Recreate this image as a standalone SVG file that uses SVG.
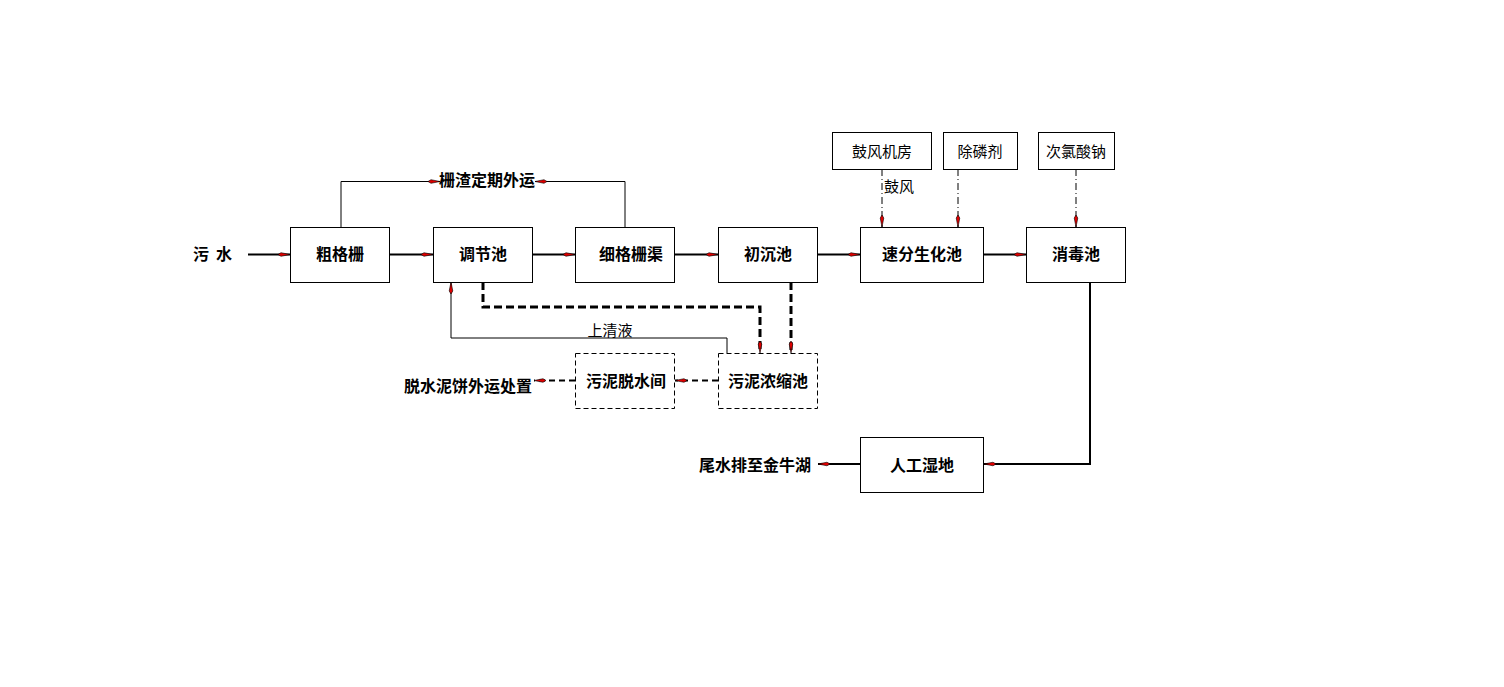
<svg xmlns="http://www.w3.org/2000/svg" width="1504" height="687" viewBox="0 0 1504 687">
<style>
.box{fill:#fff;stroke:#000;stroke-width:1}
.dbox{fill:#fff;stroke:#000;stroke-width:1;stroke-dasharray:5,3}
.t{font-family:"Noto Sans CJK SC","Liberation Sans",sans-serif;font-size:16px;font-weight:bold;fill:#000;text-anchor:middle}
.tl{font-family:"Noto Sans CJK SC","Liberation Sans",sans-serif;font-size:15px;font-weight:400;fill:#000;text-anchor:middle}
.main{fill:none;stroke:#000;stroke-width:2}
.thin{fill:none;stroke:#000;stroke-width:1}
.dash{fill:none;stroke:#000;stroke-width:3;stroke-dasharray:8,4}
.dash2{fill:none;stroke:#000;stroke-width:2;stroke-dasharray:6,4}
.dd{fill:none;stroke:#000;stroke-width:1;stroke-dasharray:7,3,1,3}
</style>
<defs>
<marker id="ar" viewBox="0 0 12 6" refX="12" refY="3" markerWidth="12" markerHeight="6" markerUnits="userSpaceOnUse" orient="auto">
<path d="M0,3 L3,1.2 L12,3 L3,4.8 Z" fill="#e00000" stroke="#000" stroke-width="0.6"/>
</marker>
</defs>
<rect width="1504" height="687" fill="#fff"/>
<g id="connectors">
<path class="main" d="M248,254.5 H290" marker-end="url(#ar)"/>
<path class="main" d="M389,254.5 H433" marker-end="url(#ar)"/>
<path class="main" d="M532,254.5 H575" marker-end="url(#ar)"/>
<path class="main" d="M674,254.5 H718" marker-end="url(#ar)"/>
<path class="main" d="M817,254.5 H860" marker-end="url(#ar)"/>
<path class="main" d="M983,254.5 H1026" marker-end="url(#ar)"/>
<path class="thin" d="M341,227 V181.5 H440" marker-end="url(#ar)"/>
<path class="thin" d="M625,227 V181.5 H535" marker-end="url(#ar)"/>
<path class="dash" d="M483,282 V307 H760 V353" marker-end="url(#ar)"/>
<path class="dash" d="M791,282 V353" marker-end="url(#ar)"/>
<path class="thin" d="M727,353 V338 H451 V282" marker-end="url(#ar)"/>
<path class="dash2" d="M718,380.5 H675" marker-end="url(#ar)"/>
<path class="dash2" d="M575,380.5 H534" marker-end="url(#ar)"/>
<path class="main" d="M1090,282 V464 H984" marker-end="url(#ar)"/>
<path class="main" d="M860,464 H818" marker-end="url(#ar)"/>
<path class="dd" d="M882,169 V227" marker-end="url(#ar)"/>
<path class="dd" d="M958,169 V227" marker-end="url(#ar)"/>
<path class="dd" d="M1076,169 V227" marker-end="url(#ar)"/>
</g>
<g id="labels">
<text class="t" x="201" y="260">污</text>
<text class="t" x="224" y="260">水</text>
<text class="t" x="487" y="186">栅渣定期外运</text>
<text class="tl" x="610" y="336">上清液</text>
<text class="t" x="468" y="392">脱水泥饼外运处置</text>
<text class="t" x="755" y="471">尾水排至金牛湖</text>
<text class="tl" x="899" y="192">鼓风</text>
</g>
<g id="n1"><rect class="box" x="290.5" y="227.5" width="99" height="55"/><text class="t" x="340" y="260">粗格栅</text></g>
<g id="n2"><rect class="box" x="433.5" y="227.5" width="99" height="55"/><text class="t" x="483" y="260">调节池</text></g>
<g id="n3"><rect class="box" x="575.5" y="227.5" width="99" height="55"/><text class="t" x="631" y="260">细格栅渠</text></g>
<g id="n4"><rect class="box" x="718.5" y="227.5" width="99" height="55"/><text class="t" x="768" y="260">初沉池</text></g>
<g id="n5"><rect class="box" x="860.5" y="227.5" width="123" height="55"/><text class="t" x="922" y="260">速分生化池</text></g>
<g id="n6"><rect class="box" x="1026.5" y="227.5" width="99" height="55"/><text class="t" x="1076" y="260">消毒池</text></g>
<g id="n7"><rect class="box" x="832.5" y="132.5" width="99" height="37"/><text class="tl" x="882" y="157">鼓风机房</text></g>
<g id="n8"><rect class="box" x="943.5" y="132.5" width="74" height="37"/><text class="tl" x="980" y="157">除磷剂</text></g>
<g id="n9"><rect class="box" x="1038.5" y="132.5" width="76" height="37"/><text class="tl" x="1076" y="157">次氯酸钠</text></g>
<g id="n10"><rect class="dbox" x="575.5" y="353.5" width="99" height="55"/><text class="t" x="626" y="387">污泥脱水间</text></g>
<g id="n11"><rect class="dbox" x="718.5" y="353.5" width="99" height="55"/><text class="t" x="768" y="387">污泥浓缩池</text></g>
<g id="n12"><rect class="box" x="860.5" y="437.5" width="123" height="55"/><text class="t" x="922" y="471">人工湿地</text></g>
</svg>
